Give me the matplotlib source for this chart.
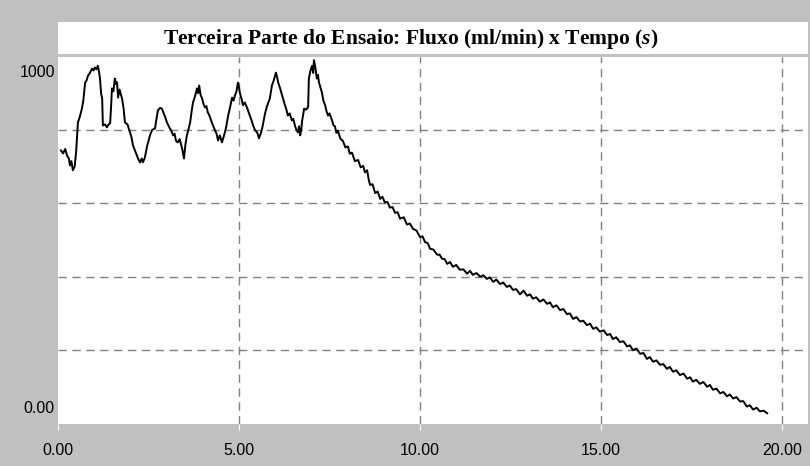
import matplotlib
matplotlib.use('Agg')
import matplotlib.pyplot as plt
from matplotlib.patches import Rectangle
from matplotlib.ticker import FixedLocator

# tempo (s) e fluxo (ml/min)
tempo = [
    0.08, 0.14, 0.20, 0.25, 0.30, 0.33, 0.37, 0.41, 0.46, 0.50,
    0.55, 0.60, 0.66, 0.70, 0.75, 0.79, 0.83, 0.88, 0.94, 0.98,
    1.02, 1.06, 1.10, 1.13, 1.16, 1.19, 1.22, 1.24, 1.30, 1.35,
    1.40, 1.44, 1.47, 1.49, 1.53, 1.57, 1.60, 1.63, 1.66, 1.70,
    1.77, 1.81, 1.85, 1.92, 1.99, 2.03, 2.07, 2.12, 2.18, 2.22,
    2.27, 2.31, 2.35, 2.40, 2.46, 2.50, 2.54, 2.60, 2.68, 2.72,
    2.76, 2.82, 2.87, 2.92, 2.96, 3.01, 3.05, 3.09, 3.13, 3.18,
    3.22, 3.26, 3.31, 3.36, 3.43, 3.48, 3.52, 3.56, 3.60, 3.65,
    3.69, 3.73, 3.78, 3.84, 3.87, 3.90, 3.94, 3.98, 4.02, 4.06,
    4.10, 4.14, 4.18, 4.25, 4.29, 4.34, 4.38, 4.42, 4.47, 4.53,
    4.57, 4.61, 4.65, 4.70, 4.75, 4.81, 4.85, 4.89, 4.93, 4.97,
    5.00, 5.03, 5.07, 5.11, 5.16, 5.22, 5.26, 5.30, 5.35, 5.39,
    5.44, 5.50, 5.53, 5.55, 5.60, 5.64, 5.68, 5.72, 5.76, 5.80,
    5.85, 5.91, 5.96, 6.02, 6.05, 6.08, 6.13, 6.19, 6.23, 6.27,
    6.31, 6.35, 6.40, 6.46, 6.50, 6.55, 6.59, 6.63, 6.66, 6.69,
    6.72, 6.74, 6.77, 6.80, 6.85, 6.91, 6.93, 6.97, 7.02, 7.05,
    7.07, 7.11, 7.15, 7.18, 7.21, 7.25, 7.29, 7.33, 7.38, 7.42,
    7.46, 7.50, 7.57, 7.61, 7.65, 7.69, 7.73, 7.80, 7.87, 7.94,
    8.01, 8.06, 8.12, 8.20, 8.29, 8.36, 8.43, 8.48, 8.54, 8.58,
    8.62, 8.69, 8.76, 8.83, 8.90, 8.96, 9.03, 9.10, 9.17, 9.24,
    9.31, 9.38, 9.45, 9.55, 9.64, 9.72, 9.81, 9.90, 10.00, 10.07,
    10.14, 10.21, 10.28, 10.37, 10.47, 10.54, 10.61, 10.68, 10.75, 10.83,
    10.91, 11.00, 11.10, 11.20, 11.30, 11.38, 11.46, 11.56, 11.66, 11.75,
    11.85, 11.93, 12.02, 12.11, 12.21, 12.30, 12.40, 12.48, 12.57, 12.66,
    12.76, 12.86, 12.96, 13.04, 13.12, 13.21, 13.31, 13.41, 13.51, 13.59,
    13.67, 13.77, 13.87, 13.96, 14.06, 14.14, 14.23, 14.32, 14.42, 14.51,
    14.61, 14.70, 14.78, 14.87, 14.97, 15.07, 15.17, 15.25, 15.33, 15.42,
    15.52, 15.62, 15.72, 15.80, 15.88, 15.98, 16.08, 16.17, 16.27, 16.35,
    16.44, 16.53, 16.63, 16.72, 16.82, 16.90, 16.99, 17.08, 17.18, 17.28,
    17.38, 17.46, 17.54, 17.63, 17.73, 17.83, 17.93, 18.01, 18.09, 18.19,
    18.29, 18.38, 18.48, 18.56, 18.65, 18.74, 18.84, 18.93, 19.03, 19.11,
    19.20, 19.30, 19.39, 19.49, 19.59,
]

fluxo = [
    744, 736, 748, 730, 722, 703, 715, 690, 700, 739,
    820, 835, 858, 880, 929, 935, 948, 955, 967, 962,
    970, 965, 975, 960, 940, 900, 885, 812, 815, 807,
    815, 818, 870, 913, 905, 940, 925, 930, 888, 910,
    885, 860, 820, 815, 793, 780, 758, 745, 730, 720,
    711, 722, 712, 725, 755, 770, 785, 800, 804, 830,
    853, 860, 858, 845, 835, 820, 812, 804, 798, 785,
    790, 770, 766, 775, 749, 722, 760, 785, 800, 820,
    850, 875, 890, 913, 900, 921, 895, 886, 870, 861,
    865, 847, 840, 820, 810, 798, 790, 771, 785, 766,
    780, 793, 810, 839, 860, 888, 880, 894, 905, 929,
    915, 898, 885, 867, 875, 861, 850, 839, 825, 812,
    800, 793, 785, 777, 790, 804, 825, 845, 860, 872,
    885, 921, 935, 956, 945, 930, 915, 894, 880, 867,
    855, 839, 845, 826, 830, 810, 800, 793, 810, 785,
    800, 822, 840, 858, 855, 862, 940, 960, 975, 955,
    990, 970, 940, 950, 929, 915, 902, 880, 867, 850,
    839, 845, 826, 812, 810, 792, 798, 776, 770, 752,
    755, 735, 738, 715, 718, 698, 702, 684, 690, 666,
    650, 652, 628, 632, 612, 618, 602, 604, 588, 590,
    574, 576, 558, 562, 542, 545, 530, 526, 508, 510,
    494, 492, 476, 474, 460, 460, 449, 448, 435, 440,
    427, 432, 419, 420, 408, 416, 405, 410, 400, 404,
    394, 398, 386, 392, 380, 384, 372, 376, 364, 366,
    352, 362, 348, 352, 340, 344, 332, 338, 326, 330,
    317, 322, 309, 312, 298, 300, 285, 290, 278, 280,
    268, 272, 258, 262, 250, 254, 241, 244, 230, 235,
    222, 224, 210, 213, 200, 204, 190, 192, 176, 181,
    168, 172, 160, 162, 149, 154, 141, 145, 132, 136,
    122, 126, 114, 119, 108, 113, 100, 105, 92, 95,
    82, 86, 74, 79, 68, 72, 60, 61, 46, 50,
    38, 43, 33, 35, 28,
]

x_ticks = [0, 5, 10, 15, 20]
x_labels = ['0.00', '5.00', '10.00', '15.00', '20.00']
y_ticks = [0, 1000]
y_labels = ['0.00', '1000']
y_grid = [200, 400, 600, 800]

titulo = r'Terceira Parte do Ensaio: Fluxo (ml/min) x Tempo ($s$)'

W, H = 810, 466
cinza = '#c0c0c0'

plt.rcParams['mathtext.fontset'] = 'custom'
plt.rcParams['mathtext.it'] = 'Liberation Serif:italic:bold'
plt.rcParams['mathtext.rm'] = 'Liberation Serif:bold'

fig = plt.figure(figsize=(W / 100, H / 100), dpi=100, facecolor=cinza)

# caixa do titulo
fig.patches.append(Rectangle((58 / W, 1 - 54 / H), 750 / W, 32 / H,
                             transform=fig.transFigure, facecolor='white',
                             edgecolor='none'))
fig.text(411 / W, 1 - 39 / H, titulo, ha='center', va='center',
         family='Liberation Serif', weight='bold', fontsize=15.5)

ax = fig.add_axes([58 / W, 42.5 / H, 750 / W, 367 / H])
ax.set_facecolor('white')
ax.plot(tempo, fluxo, color='black', lw=1.4)

ax.set_xlim(0, 750 / 36.2)
ax.set_ylim(0, 1000)

for s in ax.spines.values():
    s.set_visible(False)

ax.xaxis.set_major_locator(FixedLocator(x_ticks))
ax.set_xticklabels(x_labels)
ax.yaxis.set_major_locator(FixedLocator(y_grid))
ax.set_yticklabels([])

ax.tick_params(axis='x', length=4, color='white', pad=10, labelsize=11.5,
               labelfontfamily='Liberation Sans')
ax.tick_params(axis='y', length=0)

# rotulos do eixo y, dentro da faixa
ax.annotate(y_labels[1], xy=(0, y_ticks[1]), xycoords=('axes fraction', 'data'),
            xytext=(-3, -16), textcoords='offset pixels', ha='right',
            va='center', family='Liberation Sans', fontsize=11.5)
ax.annotate(y_labels[0], xy=(0, y_ticks[0]), xycoords=('axes fraction', 'data'),
            xytext=(-3, 15), textcoords='offset pixels', ha='right',
            va='center', family='Liberation Sans', fontsize=11.5)

dash = (0, (6, 4))
ax.grid(axis='y', color='#808080', lw=1, linestyle=dash)
ax.grid(axis='x', color='#808080', lw=1, linestyle=dash)
ax.xaxis.get_gridlines()[0].set_visible(False)

plt.savefig('out.png', dpi=100, facecolor=cinza)
